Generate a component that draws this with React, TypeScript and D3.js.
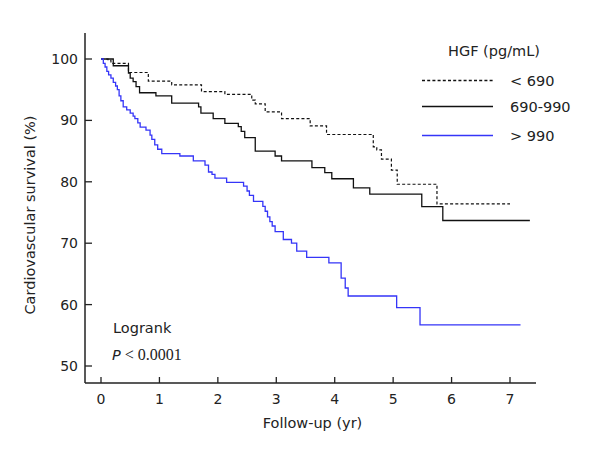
import React from "react";
import * as d3 from "d3";

const lowTimes = [0, 0.12, 0.17, 0.47, 0.81, 1.21, 1.72, 2.12, 2.58, 2.64, 2.81, 3.09, 3.58, 3.86, 4.66, 4.72, 4.8, 4.97, 5.07, 5.75, 7.0];
const lowSurv = [100, 99.8, 99.3, 97.8, 96.4, 95.8, 94.7, 94.25, 93.3, 92.7, 91.4, 90.3, 89.1, 87.7, 85.7, 85.2, 83.7, 81.9, 79.6, 76.4, 76.4];

const midTimes = [0, 0.21, 0.47, 0.5, 0.55, 0.6, 0.66, 0.94, 1.21, 1.67, 1.71, 1.92, 2.12, 2.35, 2.4, 2.46, 2.64, 2.98, 3.09, 3.61, 3.83, 3.95, 4.32, 4.6, 5.49, 5.85, 7.34];
const midSurv = [100, 98.9, 97.7, 96.9, 96.3, 95.5, 94.5, 94.0, 92.8, 92.2, 91.2, 90.3, 89.5, 89.0, 88.2, 87.2, 85.0, 84.2, 83.4, 82.3, 81.5, 80.5, 79.0, 78.0, 75.95, 73.7, 73.7];

const highTimes = [0, 0.04, 0.07, 0.1, 0.13, 0.17, 0.21, 0.25, 0.28, 0.31, 0.34, 0.38, 0.44, 0.5, 0.55, 0.58, 0.63, 0.67, 0.77, 0.84, 0.87, 0.92, 0.97, 1.04, 1.35, 1.58, 1.78, 1.84, 1.9, 1.95, 2.15, 2.44, 2.5, 2.54, 2.61, 2.77, 2.81, 2.85, 2.89, 2.93, 2.98, 3.12, 3.26, 3.35, 3.52, 3.9, 4.11, 4.18, 4.23, 5.06, 5.46, 7.18];
const highSurv = [100, 99.3, 98.7, 98.0, 97.4, 96.9, 96.2, 95.6, 95.0, 94.0, 93.2, 92.2, 91.7, 91.2, 90.7, 90.3, 89.6, 88.9, 88.4, 87.6, 86.9, 86.0, 85.3, 84.6, 84.2, 83.4, 82.7, 81.6, 81.2, 80.6, 79.9, 79.3, 78.5, 77.8, 76.8, 76.0, 75.2, 74.3, 73.5, 72.8, 71.9, 70.6, 70.0, 68.7, 67.7, 66.8, 64.3, 62.7, 61.4, 59.5, 56.7, 56.7];

const xTicks = [0, 1, 2, 3, 4, 5, 6, 7];
const yTicks = [50, 60, 70, 80, 90, 100];
const legendLabels = ["< 690", "690-990", "> 990"];
const legendTitle = "HGF (pg/mL)";
const xTitle = "Follow-up (yr)";
const yTitle = "Cardiovascular survival (%)";

const FONT = "'DejaVu Sans', Verdana, sans-serif";

export default function App() {
  const x = d3.scaleLinear().domain([0, 7]).range([101, 510]);
  const y = d3.scaleLinear().domain([50, 100]).range([366, 59]);
  const xMin = x.invert(85);
  const xMax = x.invert(536);
  const yMin = y.invert(383);
  const yMax = y.invert(33);

  const line = d3
    .line<[number, number]>()
    .x((d) => x(d[0]))
    .y((d) => y(d[1]))
    .curve(d3.curveStepAfter);

  const series = [
    { t: lowTimes, s: lowSurv, color: "#111", dash: "3,2.2", w: 1.2 },
    { t: midTimes, s: midSurv, color: "#111", dash: undefined, w: 1.3 },
    { t: highTimes, s: highSurv, color: "#3535f8", dash: undefined, w: 1.3 },
  ];

  const legendY = [80.5, 106.5, 135.5];

  return (
    <svg
      width={600}
      height={456}
      style={{ position: "absolute", left: 0, top: 0, background: "#fff" }}
      fontFamily={FONT}
    >
      <rect x={0} y={0} width={600} height={456} fill="#fff" />
      <line x1={x(xMin)} x2={x(xMin)} y1={y(yMax)} y2={y(yMin)} stroke="#222" strokeWidth={1.5} />
      <line x1={x(xMin)} x2={x(xMax)} y1={y(yMin)} y2={y(yMin)} stroke="#222" strokeWidth={1.5} />
      {yTicks.map((v) => (
        <g key={"y" + v}>
          <line x1={x(xMin)} x2={x(xMin) + 7} y1={y(v)} y2={y(v)} stroke="#222" strokeWidth={1.3} />
          <text x={78} y={y(v)} textAnchor="end" dominantBaseline="central" fontSize={14} fill="#222">
            {v}
          </text>
        </g>
      ))}
      {xTicks.map((v) => (
        <g key={"x" + v}>
          <line x1={x(v)} x2={x(v)} y1={y(yMin)} y2={y(yMin) - 6} stroke="#222" strokeWidth={1.3} />
          <text x={x(v)} y={399} textAnchor="middle" dominantBaseline="central" fontSize={14} fill="#222">
            {v}
          </text>
        </g>
      ))}
      <text x={312.5} y={428} textAnchor="middle" fontSize={14.5} fill="#222">
        {xTitle}
      </text>
      <text transform={`translate(35,215) rotate(-90)`} textAnchor="middle" fontSize={14.5} fill="#222">
        {yTitle}
      </text>

      {series.map((sr, i) => (
        <path
          key={i}
          d={line(sr.t.map((t, j) => [t, sr.s[j]] as [number, number])) || ""}
          fill="none"
          stroke={sr.color}
          strokeWidth={sr.w}
          strokeDasharray={sr.dash}
        />
      ))}

      <text x={448} y={56} fontSize={14.5} fill="#222">
        {legendTitle}
      </text>
      {series.map((sr, i) => (
        <g key={"l" + i}>
          <line
            x1={422}
            x2={493}
            y1={legendY[i]}
            y2={legendY[i]}
            stroke={sr.color}
            strokeWidth={1.4}
            strokeDasharray={sr.dash}
          />
          <text x={510} y={legendY[i]} dominantBaseline="central" fontSize={14.5} fill="#222">
            {legendLabels[i]}
          </text>
        </g>
      ))}

      <text x={113} y={333} fontSize={14.5} fill="#222">
        Logrank
      </text>
      <text x={112} y={360} fontSize={14.5} fill="#222">
        <tspan fontStyle="italic">P</tspan>
        <tspan fontFamily="'Liberation Serif', serif" fontSize={16}> &lt; 0.0001</tspan>
      </text>
    </svg>
  );
}
